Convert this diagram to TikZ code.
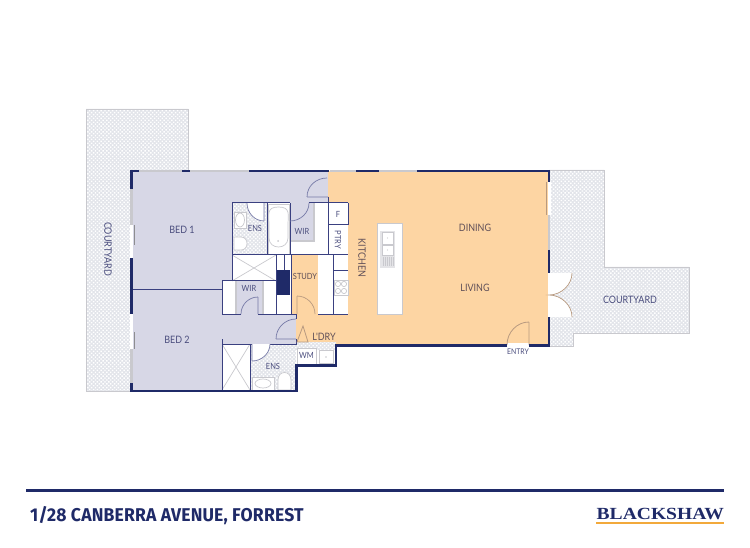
\documentclass[tikz,border=0pt]{standalone}
\usepackage{fontspec}
\usetikzlibrary{calc,patterns.meta}
\setmainfont{Liberation Sans}
\newfontfamily\lblfont[FakeStretch=0.88]{Lato}
\newfontfamily\titlefont[FakeStretch=0.95,LetterSpace=1]{Fira Sans}
\newfontfamily\brandfont[FakeStretch=1.15]{Liberation Serif}
\definecolor{navy}{HTML}{1F2A68}
\definecolor{inner}{HTML}{3A4080}
\definecolor{lilac}{HTML}{D7D7E6}
\definecolor{peach}{HTML}{FDD5A3}
\definecolor{glass}{HTML}{C9C9CE}
\definecolor{paveback}{HTML}{E2E4EA}
\definecolor{labelblue}{HTML}{4B4E7E}
\definecolor{labelbrown}{HTML}{5F4F58}
\definecolor{tan}{HTML}{B89A80}
\definecolor{gold}{HTML}{F2A93B}
\tikzset{
  wall/.style={draw=navy,line width=2.6pt},
  thinwall/.style={draw=inner,line width=1pt},
  glazing/.style={draw=glass,line width=2.2pt},
  fixture/.style={draw=glass,line width=.7pt,fill=white},
  swing/.style={draw=inner!70,line width=.7pt},
  swingtan/.style={draw=tan,line width=.8pt},
  paved/.style={draw=glass,line width=.8pt,preaction={fill=paveback},pattern={Dots[distance=2.7pt,radius=1pt,angle=45]},pattern color=white},
  lbl/.style={text=labelblue,font=\lblfont\fontsize{10.2}{11}\selectfont,inner sep=0pt},
  lblsmall/.style={lbl,font=\lblfont\fontsize{8.5}{9}\selectfont},
  lblwarm/.style={lbl,text=labelbrown}
}
\newcommand{\qarc}[3]{#1 .. controls ($#1!.55!#2$) and ($#3!.55!#2$) .. #3}
\begin{document}
\begin{tikzpicture}[x=1pt,y=-1pt]
\useasboundingbox (0,0) rectangle (750,548);
\fill[white] (0,0) rectangle (750,548);
% courtyards
\path[paved] (86,109) -- (188,109) -- (188,172) -- (133,172) -- (133,391) -- (86,391) -- cycle;
\path[paved] (549,170) -- (604,170) -- (604,267) -- (689,267) -- (689,333) -- (573,333) -- (573,346) -- (549,346) -- cycle;
% floor areas
\fill[lilac] (132,171) -- (328,171) -- (328,255) -- (232,255) -- (232,281) -- (222,281) -- (222,314) -- (296,314) -- (296,344) -- (222,344) -- (222,390) -- (132,390) -- cycle;
\fill[peach] (328,171) -- (549,171) -- (549,345) -- (336,345) -- (296,345) -- (296,314) -- (291,314) -- (291,255) -- (318,255) -- (318,314) -- (348,314) -- (348,203) -- (328,203) -- cycle;
% white rooms and joinery
\fill[white] (290,203) rectangle (328,255);
\fill[lilac] (290,203) rectangle (314,241);
\fill[white] (333,255) rectangle (348,314);
\fill[white] (318,255) rectangle (333,314);
\fill[white] (328,203) rectangle (348,255);
\fill[white] (232,255) rectangle (291,281);
\fill[white] (222,281) rectangle (291,314);
\fill[lilac] (236,281) rectangle (263,314);
\fill[white] (267,203) rectangle (290,255);
\fill[white] (222,344) rectangle (250,390);
\fill[white] (296,344) rectangle (336,365);
\path[paved,draw=none] (232,203) rectangle (267,255);
\path[paved,draw=none] (250,344) rectangle (296,390);
\path[paved,draw=none] (296,342) rectangle (336,350);
% WIR edges
\draw[glazing,line width=1.2pt] (290,241) -- (314,241) -- (314,203);
\draw[glazing,line width=1.2pt] (236,281) -- (236,314) (263,281) -- (263,314);
% door-side white patches
\fill[white] (247,203) -- (264,203) -- (264,221) .. controls (254,221) and (247,213) .. (247,203) -- cycle;
\fill[white] (252,344) -- (270,344) .. controls (270,354) and (262,361) .. (252,361) -- cycle;
% fixtures: ensuite 1
\draw[fixture] (234,212) rectangle (246,228);
\draw[fixture] (240,220) ellipse [x radius=4.5,y radius=7];
\draw[fixture] (234,237) -- (241,237) .. controls (249,237) and (249,250) .. (241,250) -- (234,250) -- cycle;
\draw[fixture] (268,204) rectangle (289,254);
\draw[fixture] (278.5,207) .. controls (291,207) and (288,215) .. (288,225) -- (288,238) .. controls (288,250) and (269,250) .. (269,238) -- (269,225) .. controls (269,215) and (266,207) .. (278.5,207) -- cycle;
\fill[glass] (278,241) circle (1);
% showers
\draw[glass,line width=.7pt] (232,255) -- (276,281) (276,255) -- (232,281);
\draw[glass,line width=.7pt] (222,344) -- (250,390) (250,344) -- (222,390);
\draw[thinwall] (222,344) rectangle (250,390);
% ensuite 2
\draw[fixture] (252,377) rectangle (274,390);
\draw[fixture] (263,383.5) ellipse [x radius=8,y radius=4.5];
\draw[fixture] (278,390) -- (278,380) .. controls (278,370) and (291,370) .. (291,380) -- (291,390) -- cycle;
% laundry units
\draw[fixture] (297,348) rectangle (316,364);
\draw[fixture] (319,350) rectangle (333,363);
\fill[glass] (326,357) circle (.8);
% cooktop
\draw[fixture] (334,280) rectangle (348,295);
\foreach \cx in {338,344} \foreach \cy in {284,291} \draw[glass,line width=.7pt] (\cx,\cy) circle (2.6);
% island
\draw[fixture,line width=.8pt] (377,223) rectangle (402,314);
\fill[glass!50] (380,231) rectangle (395,268);
\draw[fixture] (382,232) rectangle (393,244);
\draw[fixture] (382,245) rectangle (393,255);
\fill[glass] (387.5,238) circle (.7) (387.5,250) circle (.7);
\foreach \gx in {383,385,387,389,391,393} \draw[glass,line width=.4pt] (\gx,257) -- (\gx,266);
% study dark column
\fill[navy] (276,270) rectangle (290,295);
% inner walls
\draw[thinwall] (232,203) -- (290,203) (232,203) -- (232,281) (232,255) -- (291,255) (267,203) -- (267,255) (290,203) -- (290,255);
\draw[thinwall] (309,203) -- (348,203) (328,197) -- (328,255) (291,255) -- (348,255);
\draw[thinwall] (222,281) -- (277,281) (276,255) -- (276,314) (284,255) -- (284,270) (291,255) -- (291,314);
\draw[thinwall] (222,314) -- (241,314) (258,314) -- (297,314) (318,314) -- (348,314) (333,255) -- (333,314) (334,271) -- (348,271) (348,203) -- (348,225) (328,225) -- (348,225);
\draw[thinwall] (132,290) -- (222,290) (222,281) -- (222,315) (222,339) -- (222,390);
\draw[thinwall] (296,314) -- (296,319) (296,339) -- (296,345);
\draw[thinwall] (222,344) -- (252,344) (270,344) -- (296,344);
% door swings
\draw[swing] (307,197) -- (328,197) (307,197) .. controls (307,186) and (316,178) .. (327,178);
\draw[thinwall] (290,221) -- (290,203);
\draw[swing] \qarc{(290,221)}{(309,221)}{(309,203)};
\draw[swing] (264,203) -- (264,221) \qarc{(264,221)}{(247,221)}{(247,203)};
\draw[swing,draw=tan] (297,314) -- (297,296) \qarc{(297,296)}{(315,296)}{(315,314)};
\draw[swing] (258,314) -- (258,297) \qarc{(258,297)}{(241,297)}{(241,314)};
\draw[swing] (296,339) -- (276,339) \qarc{(276,339)}{(276,319)}{(296,319)};
\draw[swing] (252,344) -- (252,361) \qarc{(252,361)}{(270,361)}{(270,344)};
\draw[swingtan] (303,326) -- (297,342) -- (308,342) -- cycle;
% entry
\fill[white] (507,343) rectangle (529,347);
\draw[swingtan] (529,345) -- (529,322) \qarc{(529,322)}{(507,322)}{(507,345)};
% courtyard double doors
\fill[white] (548,273) -- (572,273) .. controls (572,285) and (561,295) .. (549,295) .. controls (561,295) and (572,305) .. (572,317) -- (548,317) -- cycle;
\draw[swing,draw=tan] (572,273) .. controls (572,285) and (561,295) .. (549,295) .. controls (561,295) and (572,305) .. (572,317);
% glazing
\draw[glazing] (139,171) -- (182,171) (190,171) -- (249,171) (330,171) -- (356,171) (379,171) -- (417,171);
\draw[glazing] (131.5,189) -- (131.5,225);
\draw[glazing] (131.5,349) -- (131.5,383);
\draw[glazing] (549,215) -- (549,250);
\fill[white] (130,225) rectangle (133,258);
\fill[white] (130,314) rectangle (133,349);
\fill[white] (548,182) rectangle (551,215);
\draw[swingtan] (546,182) -- (546,215);
\draw[glass!70!black,line width=.7pt] (134.5,225) -- (134.5,245) (134.5,332) -- (134.5,349);
% outer walls
\draw[wall] (131.5,189) -- (131.5,171) -- (139,171) (182,171) -- (190,171) (249,171) -- (329,171) (356,171) -- (379,171) (417,171) -- (549,171) -- (549,182);
\draw[wall] (549,250) -- (549,273) (549,317) -- (549,345.5) -- (529,345.5) (507,345.5) -- (336,345.5) -- (336,365.5) -- (296.5,365.5) -- (296.5,391) -- (131.5,391) -- (131.5,383);
\draw[wall] (131.5,258) -- (131.5,314);
% labels
\node[lbl] (bedone) at (182,230) {BED 1};
\node[lbl] (bedtwo) at (177,340) {BED 2};
\node[lbl,rotate=-90] (courtl) at (108,249) {COURTYARD};
\node[lbl] (courtr) at (630,300) {COURTYARD};
\node[lblsmall] (ensone) at (255,228) {ENS};
\node[lblsmall] (wirone) at (302,231) {WIR};
\node[lblsmall] (wirtwo) at (249,288) {WIR};
\node[lblsmall] (enstwo) at (273,366) {ENS};
\node[lblsmall] (wm) at (306.5,355.5) {WM};
\node[lblsmall,text=labelblue,rotate=-90] (ptry) at (338,240) {PTRY};
\node[lblsmall] (fridge) at (338,214) {F};
\node[lblwarm,rotate=-90] (kitchen) at (362,258) {KITCHEN};
\node[lblsmall,text=labelbrown] (study) at (305,276) {STUDY};
\node[lblwarm] (ldry) at (324,337) {L'DRY};
\node[lblwarm] (dining) at (475,228) {DINING};
\node[lblwarm] (living) at (475,288) {LIVING};
\node[lblsmall,font=\lblfont\fontsize{7.8}{8}\selectfont] (entry) at (518,352) {ENTRY};
% footer
\fill[navy] (26,488.5) rectangle (724,491.5);
\node[anchor=west,inner sep=0pt,text=navy,font=\titlefont\fontsize{18.5}{20}\selectfont\bfseries] (title) at (30,516) {1/28 CANBERRA AVENUE, FORREST};
\node[anchor=east,inner sep=0pt,text=navy,font=\brandfont\bfseries\fontsize{17}{18}\selectfont] (brand) at (724,514) {BLACKSHAW};
\fill[gold] (596,522) rectangle (724,523.5);
\end{tikzpicture}
\end{document}
